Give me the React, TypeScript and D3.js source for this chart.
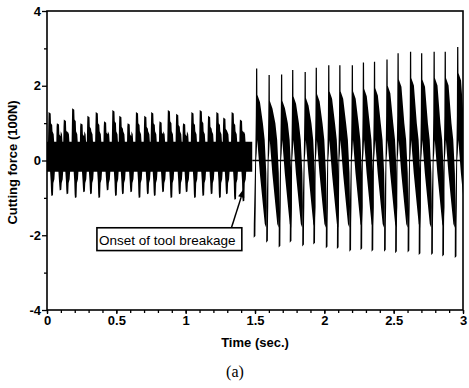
import React, { useEffect, useRef } from "react";
import * as d3 from "d3";

const width = 469;
const height = 388;

// before breakage: spike times (sec.) and their extremes (100N)
const preTimes = [0.02, 0.08, 0.13, 0.19, 0.25, 0.3, 0.36, 0.42, 0.48, 0.53, 0.59, 0.65, 0.71, 0.76, 0.82, 0.88, 0.94, 0.99, 1.05, 1.11, 1.17, 1.23, 1.28, 1.34, 1.4];
const preHigh = [1.3, 1.0, 1.1, 1.4, 1.0, 1.2, 1.3, 1.05, 1.35, 1.2, 1.0, 1.3, 1.2, 1.3, 1.05, 1.35, 1.25, 1.0, 1.3, 1.35, 1.2, 1.3, 1.15, 1.3, 1.1];
const preLow = [-0.95, -0.8, -0.9, -1.0, -0.85, -0.9, -1.0, -0.8, -0.95, -0.9, -0.85, -1.0, -0.9, -0.95, -0.85, -1.0, -0.9, -0.85, -1.0, -0.95, -0.9, -1.0, -0.9, -1.05, -1.1];
const preBand = [-0.3, 0.5]; // the dense part of the signal
const preEnd = 1.48;

// after breakage: rise time of each cycle and its extremes
const postTimes = [1.51, 1.6, 1.69, 1.77, 1.86, 1.94, 2.03, 2.11, 2.2, 2.28, 2.36, 2.45, 2.53, 2.62, 2.7, 2.79, 2.87, 2.96];
const postHigh = [2.46, 2.29, 2.3, 2.42, 2.37, 2.48, 2.55, 2.55, 2.55, 2.62, 2.64, 2.7, 2.87, 2.91, 2.87, 2.91, 2.91, 3.04];
const postLow = [-2.07, -2.2, -2.33, -2.2, -2.3, -2.25, -2.35, -2.37, -2.44, -2.4, -2.44, -2.44, -2.48, -2.46, -2.53, -2.53, -2.57, -2.61];

const xTicks = [0, 0.5, 1, 1.5, 2, 2.5, 3];
const yTicks = [-4, -2, 0, 2, 4];
const yMinor = [-3, -1, 1, 3];

const noteText = "Onset of tool breakage";
const noteBox = { t0: 0.36, t1: 1.405, v0: -1.8, v1: -2.41 };
const noteArrow = { t0: 1.33, v0: -1.8, t1: 1.42, v1: -0.75 };

export default function App() {
  const ref = useRef<SVGSVGElement>(null);

  useEffect(() => {
    const svg = d3.select(ref.current);
    svg.selectAll("*").remove();

    const x = d3.scaleLinear().domain([0, 3]).range([47, 463]);
    const y = d3.scaleLinear().domain([-4, 4]).range([310, 11]);
    const font = "'Liberation Sans', Arial, Helvetica, sans-serif";

    svg.append("defs").append("clipPath").attr("id", "plot")
      .append("rect")
      .attr("x", x(0)).attr("y", y(4))
      .attr("width", x(3) - x(0)).attr("height", y(-4) - y(4));

    const sig = svg.append("g").attr("clip-path", "url(#plot)");
    const poly = d3.line<[number, number]>();
    // glyph points are [pixel offset from the time, value]
    const shape = (t: number, pts: [number, number][]) =>
      poly(pts.map(([dx, v]) => [x(t) + dx, y(v)] as [number, number])) + "Z";

    // dense band before breakage
    const band = d3.area<number>().x((d) => x(d)).y0(y(preBand[0])).y1(y(preBand[1]));
    sig.append("path").attr("d", band([0, preEnd])).attr("fill", "#000");

    preTimes.forEach((t, i) => {
      const hi = preHigh[i];
      const lo = preLow[i];
      sig.append("path").attr("fill", "#000").attr("d", shape(t, [
        [-1.8, 0.45], [-1.5, 0.9], [-1.2, hi], [0.9, hi - 0.04], [1.2, hi - 0.3],
        [2.4, hi - 0.35], [2.7, 0.78], [3.9, 0.7], [4.5, 0.45],
      ]));
      sig.append("path").attr("fill", "#000").attr("d", shape(t, [
        [0.2, -0.25], [0.9, -0.55], [1.3, lo + 0.1], [1.6, lo], [3.2, lo + 0.02],
        [3.6, -0.6], [4.6, -0.5], [5.2, -0.25],
      ]));
    });

    // zero line after breakage
    sig.append("path")
      .attr("d", poly([[x(preEnd), y(0)], [x(3), y(0)]]))
      .attr("stroke", "#000").attr("stroke-width", 1.4);

    postTimes.forEach((t, i) => {
      const hi = postHigh[i];
      const lo = postLow[i];
      sig.append("path").attr("fill", "#000").attr("d", shape(t, [
        [-2.7, lo], [-2.6, -1.7], [-1.2, 0.0], [-0.6, 1.2], [-0.45, hi - 0.7], [-0.35, hi],
        [0.9, hi], [1.0, hi - 0.7], [3.6, hi - 0.9], [6.5, 1.0], [8.3, 0.55],
        [9.9, -0.33], [10.4, -1.24], [9.8, -1.8], [8.4, -1.7], [6.7, -1.24],
        [3.4, -0.33], [0.9, 0.55], [0.3, 0.2], [-0.3, 0.0], [-0.6, -1.2], [-0.9, -1.7], [-1.0, lo + 0.05],
      ]));
    });

    // axes
    const styleAxis = (g: d3.Selection<SVGGElement, unknown, null, undefined>) => {
      g.select(".domain").remove();
      g.selectAll("line").attr("stroke", "#000").attr("stroke-width", 1.3);
      g.selectAll("text")
        .attr("font-family", font).attr("font-size", 13).attr("font-weight", "bold").attr("fill", "#000");
    };

    const xAxis = svg.append("g").attr("transform", `translate(0,${y(-4)})`)
      .call(d3.axisBottom(x).tickValues(xTicks).tickSize(4).tickPadding(2).tickFormat((d) => String(d)));
    styleAxis(xAxis);
    const xMinorAxis = svg.append("g").attr("transform", `translate(0,${y(-4)})`)
      .call(d3.axisBottom(x).ticks(30).tickSize(3).tickFormat(() => ""));
    styleAxis(xMinorAxis);

    const yAxis = svg.append("g").attr("transform", `translate(${x(0)},0)`)
      .call(d3.axisLeft(y).tickValues(yTicks).tickSize(5).tickPadding(1).tickFormat((d) => String(d)));
    styleAxis(yAxis);
    const yMinorAxis = svg.append("g").attr("transform", `translate(${x(0)},0)`)
      .call(d3.axisLeft(y).tickValues(yMinor).tickSize(3).tickFormat(() => ""));
    styleAxis(yMinorAxis);

    // frame
    svg.append("rect")
      .attr("x", x(0)).attr("y", y(4))
      .attr("width", x(3) - x(0)).attr("height", y(-4) - y(4))
      .attr("fill", "none").attr("stroke", "#000").attr("stroke-width", 1.6);

    // axis titles
    svg.append("text")
      .attr("transform", `translate(17,${y(0) + 2}) rotate(-90)`)
      .attr("text-anchor", "middle")
      .attr("font-family", font).attr("font-size", 13).attr("font-weight", "bold")
      .text("Cutting force (100N)");

    svg.append("text")
      .attr("x", x(1.5)).attr("y", 347)
      .attr("text-anchor", "middle")
      .attr("font-family", font).attr("font-size", 13).attr("font-weight", "bold")
      .text("Time (sec.)");

    svg.append("text")
      .attr("x", 235).attr("y", 377)
      .attr("text-anchor", "middle")
      .attr("font-family", "'Liberation Serif', 'Times New Roman', serif").attr("font-size", 16)
      .text("(a)");

    // annotation
    svg.append("rect")
      .attr("x", x(noteBox.t0)).attr("y", y(noteBox.v0))
      .attr("width", x(noteBox.t1) - x(noteBox.t0)).attr("height", y(noteBox.v1) - y(noteBox.v0))
      .attr("fill", "#fff").attr("stroke", "#000").attr("stroke-width", 1.6);
    svg.append("text")
      .attr("x", x(noteBox.t0) + 2).attr("y", y(noteBox.v1) - 6)
      .attr("font-family", font).attr("font-size", 13.5)
      .text(noteText);

    const ax0 = x(noteArrow.t0), ay0 = y(noteArrow.v0);
    const ax1 = x(noteArrow.t1), ay1 = y(noteArrow.v1);
    const ang = Math.atan2(ay1 - ay0, ax1 - ax0);
    const headLen = 9, headW = 3.2;
    const bx = ax1 - headLen * Math.cos(ang), by = ay1 - headLen * Math.sin(ang);
    svg.append("path")
      .attr("d", poly([[ax0, ay0], [bx, by]]))
      .attr("stroke", "#000").attr("stroke-width", 1.5);
    svg.append("path")
      .attr("d", poly([
        [ax1, ay1],
        [bx + headW * Math.sin(ang), by - headW * Math.cos(ang)],
        [bx - headW * Math.sin(ang), by + headW * Math.cos(ang)],
      ]) + "Z")
      .attr("fill", "#000");
  }, []);

  return (
    <svg
      ref={ref}
      width={width}
      height={height}
      style={{ position: "absolute", left: 0, top: 0, background: "#fff" }}
    />
  );
}
